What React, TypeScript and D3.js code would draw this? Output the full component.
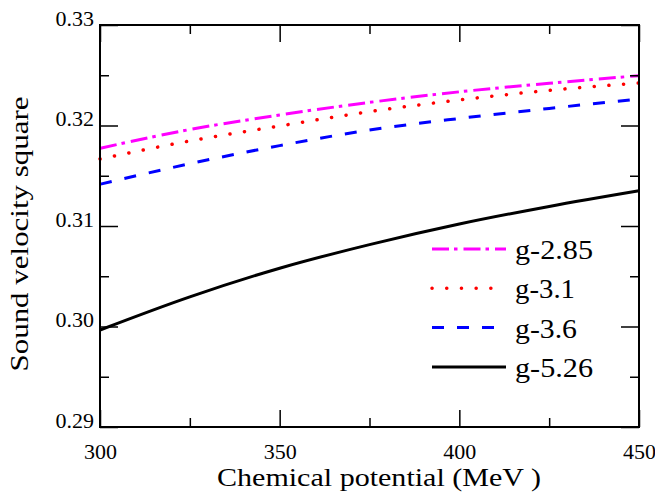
import React, { useEffect, useRef } from "react";
import * as d3 from "d3";

// chemical potential (MeV)
const muValues = [300, 325, 350, 375, 400, 425, 450];
// sound velocity square per coupling
const g285 = [0.31773, 0.3196, 0.32105, 0.3223, 0.32335, 0.3242, 0.32496];
const g31 = [0.31667, 0.31846, 0.31995, 0.32138, 0.32254, 0.3235, 0.32423];
const g36 = [0.31415, 0.3162, 0.318, 0.31955, 0.3207, 0.3217, 0.32264];
const g526 = [0.29965, 0.30295, 0.3058, 0.30815, 0.3102, 0.31195, 0.31351];

const seriesNames = ["g-2.85", "g-3.1", "g-3.6", "g-5.26"];
const seriesValues = [g285, g31, g36, g526];

const xMajor = [300, 350, 400, 450];
const xMinor = [325, 375, 425];
const yMajor = [0.29, 0.3, 0.31, 0.32, 0.33];
const yMinor = [0.295, 0.305, 0.315, 0.325];

const styles = [
  { color: "#ff00ff", dash: "17 5 3.5 6", cap: "butt", width: 3 },
  { color: "#ff0000", dash: "0.1 14.6", cap: "round", width: 3.5 },
  { color: "#0000ff", dash: "12 13", cap: "butt", width: 3 },
  { color: "#000000", dash: null, cap: "butt", width: 3 },
];
const legendTextWidth = [78, 60, 62, 78];

export default function App() {
  const svgRef = useRef<SVGSVGElement>(null);

  useEffect(() => {
    const width = 655;
    const height = 496;
    const margin = { top: 25, right: 16, bottom: 69, left: 100 };
    const font = '"Liberation Serif", "Times New Roman", Times, serif';

    const svg = d3.select(svgRef.current);
    svg.selectAll("*").remove();
    svg.attr("width", width).attr("height", height).style("font-family", font);

    const x = d3
      .scaleLinear()
      .domain([300, 450])
      .range([margin.left, width - margin.right]);
    const y = d3
      .scaleLinear()
      .domain([0.29, 0.33])
      .range([height - margin.bottom, margin.top]);

    const x0 = x.range()[0];
    const x1 = x.range()[1];
    const y0 = y.range()[0];
    const y1 = y.range()[1];

    // lines
    const line = d3
      .line<number>()
      .x((d, i) => x(muValues[i]))
      .y((d) => y(d))
      .curve(d3.curveMonotoneX);

    seriesValues.forEach((vals, i) => {
      const st = styles[i];
      svg
        .append("path")
        .datum(vals)
        .attr("fill", "none")
        .attr("stroke", st.color)
        .attr("stroke-width", st.width)
        .attr("stroke-linecap", st.cap)
        .attr("stroke-dasharray", st.dash)
        .attr("d", line);
    });

    // axes
    const styleAxis = (g: any) => {
      g.attr("font-family", null);
      g.select(".domain").remove();
      g.selectAll("line").attr("stroke", "#000").attr("stroke-width", 1.5);
      g.selectAll("text")
        .style("font-family", font)
        .attr("font-size", 22)
        .attr("fill", "#000");
    };

    // bottom
    svg
      .append("g")
      .attr("transform", `translate(0,${y0})`)
      .call(
        d3
          .axisBottom(x)
          .tickValues(xMajor)
          .tickSize(-17)
          .tickPadding(10)
          .tickFormat(d3.format("d"))
      )
      .call(styleAxis)
      .call((g: any) => g.selectAll("text").attr("dy", "1em"));
    svg
      .append("g")
      .attr("transform", `translate(0,${y0})`)
      .call(d3.axisBottom(x).tickValues(xMinor).tickSize(-9).tickFormat(() => ""))
      .call(styleAxis);

    // top
    svg
      .append("g")
      .attr("transform", `translate(0,${y1})`)
      .call(d3.axisTop(x).tickValues(xMajor).tickSize(-17).tickFormat(() => ""))
      .call(styleAxis);
    svg
      .append("g")
      .attr("transform", `translate(0,${y1})`)
      .call(d3.axisTop(x).tickValues(xMinor).tickSize(-9).tickFormat(() => ""))
      .call(styleAxis);

    // left
    svg
      .append("g")
      .attr("transform", `translate(${x0},0)`)
      .call(
        d3
          .axisLeft(y)
          .tickValues(yMajor)
          .tickSize(-18)
          .tickPadding(6)
          .tickFormat(d3.format(".2f"))
      )
      .call(styleAxis)
      .call((g: any) => g.selectAll("text").attr("dy", "0"));
    svg
      .append("g")
      .attr("transform", `translate(${x0},0)`)
      .call(d3.axisLeft(y).tickValues(yMinor).tickSize(-9).tickFormat(() => ""))
      .call(styleAxis);

    // right
    svg
      .append("g")
      .attr("transform", `translate(${x1},0)`)
      .call(d3.axisRight(y).tickValues(yMajor).tickSize(-18).tickFormat(() => ""))
      .call(styleAxis);
    svg
      .append("g")
      .attr("transform", `translate(${x1},0)`)
      .call(d3.axisRight(y).tickValues(yMinor).tickSize(-9).tickFormat(() => ""))
      .call(styleAxis);

    // frame
    svg
      .append("rect")
      .attr("x", x0)
      .attr("y", y1)
      .attr("width", x1 - x0)
      .attr("height", y0 - y1)
      .attr("fill", "none")
      .attr("stroke", "#000")
      .attr("stroke-width", 2);

    // legend
    const legend = svg.append("g");
    seriesNames.forEach((name, i) => {
      const st = styles[i];
      const ly = 249 + i * 39.3;
      legend
        .append("line")
        .attr("x1", 432)
        .attr("x2", i === 0 || i === 3 ? 506 : 497)
        .attr("y1", ly)
        .attr("y2", ly)
        .attr("stroke", st.color)
        .attr("stroke-width", st.width)
        .attr("stroke-linecap", st.cap)
        .attr("stroke-dasharray", st.dash);
      legend
        .append("text")
        .attr("x", 515)
        .attr("y", ly + 10)
        .style("font-family", font)
        .attr("font-size", 27)
        .attr("textLength", legendTextWidth[i])
        .attr("lengthAdjust", "spacingAndGlyphs")
        .text(name);
    });

    // axis titles
    svg
      .append("text")
      .attr("x", 379)
      .attr("y", 486)
      .attr("text-anchor", "middle")
      .style("font-family", font)
      .attr("font-size", 26)
      .attr("textLength", 324)
      .attr("lengthAdjust", "spacingAndGlyphs")
      .text("Chemical potential (MeV )");

    svg
      .append("text")
      .attr("transform", "translate(28,234) rotate(-90)")
      .attr("text-anchor", "middle")
      .style("font-family", font)
      .attr("font-size", 26)
      .attr("textLength", 275)
      .attr("lengthAdjust", "spacingAndGlyphs")
      .text("Sound velocity square");
  }, []);

  return (
    <div style={{ position: "absolute", left: 0, top: 0 }}>
      <svg ref={svgRef} style={{ display: "block" }}></svg>
    </div>
  );
}
